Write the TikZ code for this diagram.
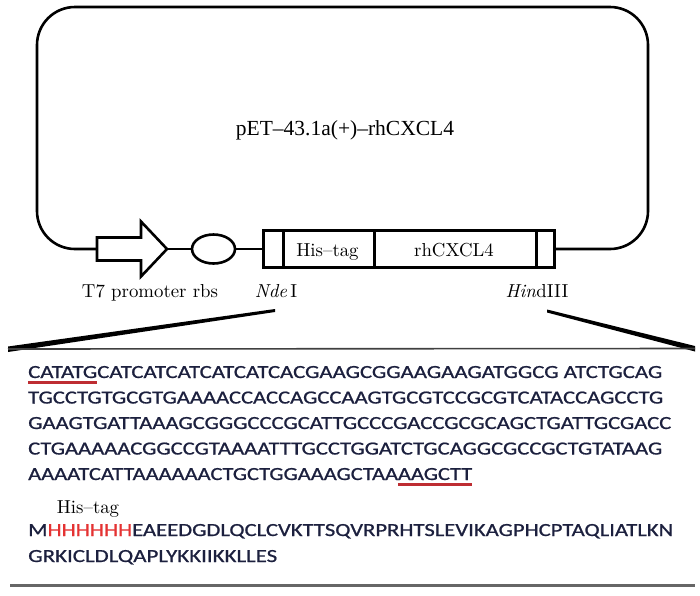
\documentclass[tikz,border=0pt]{standalone}
\usepackage{fontspec}
\usepackage{graphicx}
\newfontfamily\timesfont{Liberation Serif}
\newfontfamily\seqfont{Carlito}[FakeBold=0.8]
\newfontfamily\cmfont{lmroman10-regular}[Extension=.otf,ItalicFont=lmroman10-italic]
\usetikzlibrary{shapes.geometric}
\definecolor{seqblue}{RGB}{28,32,62}
\definecolor{ulred}{RGB}{190,45,50}
\definecolor{hisred}{RGB}{228,50,50}
\newcommand\redul[1]{\setbox0\hbox{#1}\rlap{\color{ulred}\rule[-5.5pt]{\wd0}{2.8pt}}\box0}
\newcommand\fitto[2]{\resizebox{#1pt}{\height}{#2}}
\begin{document}
\begin{tikzpicture}[x=1pt,y=-1pt,
  plasmid/.style={line width=2.6pt,black},
  cell/.style={draw,line width=2.6pt,minimum height=37pt,inner sep=0,anchor=west},
  lbl/.style={inner sep=0,anchor=base,font=\cmfont\fontsize{18.8}{22}\selectfont},
  seq/.style={inner sep=0,anchor=base west,font=\seqfont\fontsize{18.5}{24}\selectfont,text=seqblue},
  wedge/.style={fill=black}]
\useasboundingbox (0,0) rectangle (700,595);
% T7 promoter arrow
\coordinate (t7tail) at (97,249);
\coordinate (t7tip) at (167,249);
\draw[plasmid,line join=miter] (t7tail) -- ++(0,-11.5) -- ++(44,0) -- ++(0,-16) -- (t7tip)
   -- ++(-26,27.5) -- ++(0,-16) -- ++(-44,0) -- cycle;
\node[ellipse,draw,line width=2.6pt,minimum width=43pt,minimum height=29pt,inner sep=0] (rbs) at (213.5,249) {};
\node[cell,minimum width=20pt] (c1) at (262,249) {};
\node[cell,minimum width=91pt] (his) at (282,249) {};
\node[cell,minimum width=162pt] (cx) at (373,249) {};
\node[cell,minimum width=18pt] (c4) at (535,249) {};
\node[lbl] (hislbl) at (327.5,256) {His\textendash tag};
\node[lbl] (cxlbl) at (454,256) {rhCXCL4};
\coordinate (tl) at (37,7);
\coordinate (br) at (648,249);
\draw[plasmid,rounded corners=38pt] (t7tail) -| (tl) -| (br) -- (c4.east);
\draw[plasmid] (t7tip) -- (rbs.west);
\draw[plasmid] (rbs.east) -- (c1.west);
\node[inner sep=0,anchor=base,font=\timesfont\fontsize{21.5}{24}\selectfont] (title) at (345,135) {pET\textendash 43.1a(+)\textendash rhCXCL4};
% labels
\node[lbl] (t7lbl) at (150,297) {T7 promoter rbs};
\node[lbl] (ndelbl) at (276,297) {\textit{Nde}\,I};
\node[lbl] (hindlbl) at (537,297) {\textit{Hin}dIII};
% zoom wedges and rules
\coordinate (wl1) at (275,310.5);
\coordinate (wl2) at (8,349);
\coordinate (wr1) at (547,311);
\coordinate (wr2) at (695,348.5);
\fill[wedge] ([yshift=-1.5pt]wl1) -- ([yshift=-3pt]wl2) -- ([yshift=2.5pt]wl2) -- ([yshift=1.5pt]wl1) -- cycle;
\fill[wedge] ([yshift=-1.5pt]wr1) -- ([yshift=-3pt]wr2) -- ([yshift=2.5pt]wr2) -- ([yshift=1.5pt]wr1) -- cycle;
\draw[line width=1.6pt,black!75] (wl2) -- (wr2);
\coordinate (bl) at (10,585);
\coordinate (brr) at (695,585);
\draw[line width=3pt,black!60] (bl) -- (brr);
% sequences
\node[seq] (s1) at (28,378) {\fitto{634}{\redul{CATATG}CATCATCATCATCATCACGAAGCGGAAGAAGATGGCG ATCTGCAG}};
\node[seq] (s2) at (28,403.5) {\fitto{635}{TGCCTGTGCGTGAAAACCACCAGCCAAGTGCGTCCGCGTCATACCAGCCTG}};
\node[seq] (s3) at (28,429) {\fitto{643}{GAAGTGATTAAAGCGGGCCCGCATTGCCCGACCGCGCAGCTGATTGCGACC}};
\node[seq] (s4) at (28,454.5) {\fitto{634}{CTGAAAAACGGCCGTAAAATTTGCCTGGATCTGCAGGCGCCGCTGTATAAG}};
\node[seq] (s5) at (28,480) {\fitto{444}{AAAATCATTAAAAAACTGCTGGAAAGCTAA\redul{AAGCTT}}};
\node[lbl] (histag) at (88,513) {His\textendash tag};
\node[seq] (p1) at (28,536) {\fitto{645}{M\textcolor{hisred}{HHHHHH}EAEEDGDLQCLCVKTTSQVRPRHTSLEVIKAGPHCPTAQLIATLKN}};
\node[seq] (p2) at (28,562) {\fitto{249}{GRKICLDLQAPLYKKIIKKLLES}};
\end{tikzpicture}
\end{document}
